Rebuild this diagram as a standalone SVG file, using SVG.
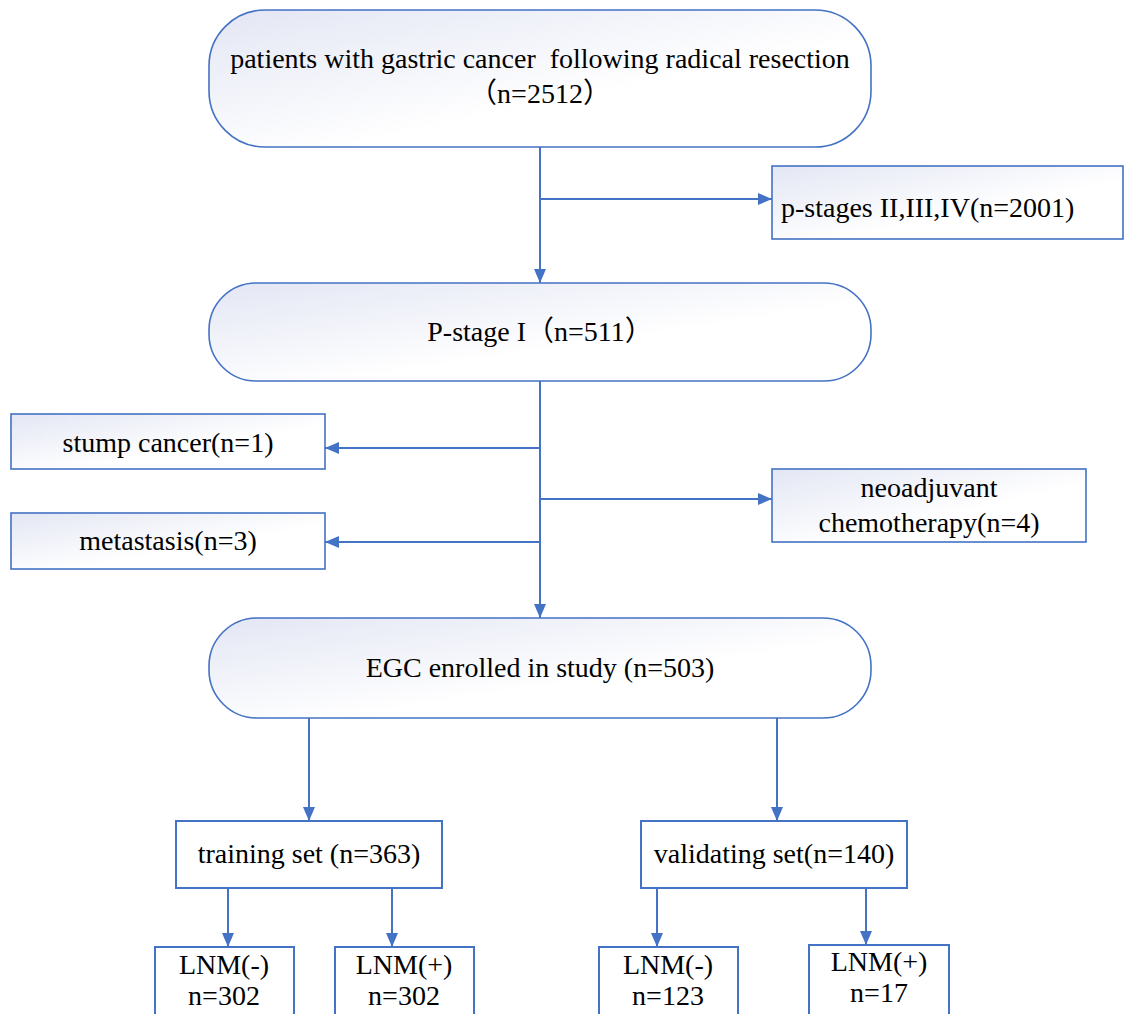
<svg xmlns="http://www.w3.org/2000/svg" width="1125" height="1014" viewBox="0 0 1125 1014">
<defs>
<linearGradient id="g" x1="0" y1="0" x2="1" y2="1">
<stop offset="0" stop-color="#e3e6f4"/>
<stop offset="0.6" stop-color="#ffffff"/>
<stop offset="1" stop-color="#ffffff"/>
</linearGradient>
<marker id="ah" viewBox="0 0 14 12" refX="14" refY="6" markerWidth="14" markerHeight="12" markerUnits="userSpaceOnUse" orient="auto">
<path d="M0,0 L14,6 L0,12 Z" fill="#4472C4"/>
</marker>
<style>
.n{fill:url(#g);stroke:#4472C4;stroke-width:1.6}
.w{fill:#ffffff;stroke:#4472C4;stroke-width:2}
.t{font-family:"Liberation Serif","Noto Sans CJK SC",serif;font-size:28px;fill:#000;text-anchor:middle;white-space:pre}
.c{fill:none;stroke:#4472C4;stroke-width:2}
</style>
</defs>
<rect width="1125" height="1014" fill="#ffffff"/>
<g id="connectors">
<path class="c" d="M540,147 V283" marker-end="url(#ah)"/>
<path class="c" d="M540,199 H772" marker-end="url(#ah)"/>
<path class="c" d="M540,381 V618" marker-end="url(#ah)"/>
<path class="c" d="M540,448 H325" marker-end="url(#ah)"/>
<path class="c" d="M540,499 H772" marker-end="url(#ah)"/>
<path class="c" d="M540,542 H325" marker-end="url(#ah)"/>
<path class="c" d="M309,718 V821" marker-end="url(#ah)"/>
<path class="c" d="M777,718 V821" marker-end="url(#ah)"/>
<path class="c" d="M228,888 V947" marker-end="url(#ah)"/>
<path class="c" d="M392,888 V947" marker-end="url(#ah)"/>
<path class="c" d="M657,888 V947" marker-end="url(#ah)"/>
<path class="c" d="M866,886 V945" marker-end="url(#ah)"/>
</g>
<g id="node-patients">
<rect class="n" x="209" y="10" width="662" height="137" rx="56" ry="56"/>
<text class="t" x="540" y="68" xml:space="preserve">patients with gastric cancer  following radical resection</text>
<text class="t" x="540" y="103">（n=2512）</text>
</g>
<g id="node-pstages">
<rect class="n" x="772" y="166" width="351" height="73"/>
<text class="t" x="781" y="217" style="text-anchor:start">p-stages II,III,IV(n=2001)</text>
</g>
<g id="node-pstage1">
<rect class="n" x="209" y="283" width="662" height="98" rx="47" ry="47"/>
<text class="t" x="540" y="341">P-stage I（n=511）</text>
</g>
<g id="node-stump">
<rect class="n" x="11" y="414" width="314" height="55"/>
<text class="t" x="168" y="452">stump cancer(n=1)</text>
</g>
<g id="node-neo">
<rect class="n" x="772" y="469" width="314" height="73"/>
<text class="t" x="929" y="497">neoadjuvant</text>
<text class="t" x="929" y="532">chemotherapy(n=4)</text>
</g>
<g id="node-meta">
<rect class="n" x="11" y="513" width="314" height="56"/>
<text class="t" x="168" y="550">metastasis(n=3)</text>
</g>
<g id="node-egc">
<rect class="n" x="209" y="618" width="662" height="100" rx="48" ry="48"/>
<text class="t" x="540" y="677">EGC enrolled in study (n=503)</text>
</g>
<g id="node-training">
<rect class="w" x="176" y="821" width="266" height="67"/>
<text class="t" x="309" y="863">training set (n=363)</text>
</g>
<g id="node-validating">
<rect class="w" x="641" y="821" width="266" height="67"/>
<text class="t" x="774" y="863">validating set(n=140)</text>
</g>
<g id="node-t-neg">
<rect class="w" x="155" y="947" width="139" height="80"/>
<text class="t" x="224" y="974">LNM(-)</text>
<text class="t" x="224" y="1005">n=302</text>
</g>
<g id="node-t-pos">
<rect class="w" x="335" y="947" width="139" height="80"/>
<text class="t" x="404" y="974">LNM(+)</text>
<text class="t" x="404" y="1005">n=302</text>
</g>
<g id="node-v-neg">
<rect class="w" x="599" y="947" width="139" height="80"/>
<text class="t" x="668" y="974">LNM(-)</text>
<text class="t" x="668" y="1005">n=123</text>
</g>
<g id="node-v-pos">
<rect class="w" x="809" y="945" width="140" height="80"/>
<text class="t" x="879" y="971">LNM(+)</text>
<text class="t" x="879" y="1002">n=17</text>
</g>
</svg>
